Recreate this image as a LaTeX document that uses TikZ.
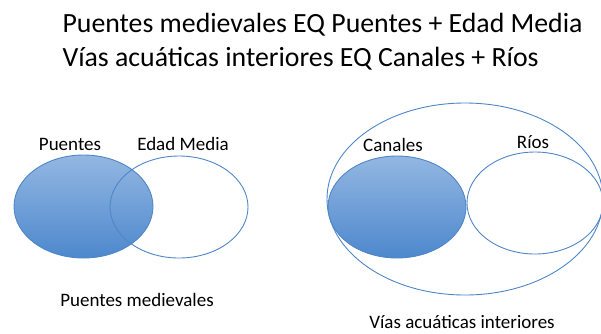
\documentclass[tikz,border=0pt]{standalone}
\usepackage{fontspec}
\setmainfont{Carlito}
\usetikzlibrary{shapes.geometric}
\definecolor{setline}{HTML}{4F86C6}
\definecolor{settop}{HTML}{93B7E2}
\definecolor{setbot}{HTML}{4D88CD}
\tikzset{
    every node/.style={font=\fontsize{19}{22}\selectfont},
    title/.style={anchor=west, font=\fontsize{27.8}{34}\selectfont},
    set/.style={ellipse, draw=setline, line width=0.9pt, inner sep=0pt},
    fullset/.style={set, top color=settop, bottom color=setbot}
}

\begin{document}
\begin{tikzpicture}[x=1pt, y=-1pt]
  \useasboundingbox (0,0) rectangle (601,333);
  \clip (0,0) rectangle (601,333);

  \node (t1) [title] at (59,25) {Puentes medievales EQ Puentes + Edad Media};
  \node (t2) [title] at (59,59) {Vías acuáticas interiores EQ Canales + Ríos};

  % left diagram
  \node (puentes) [fullset, minimum width=139pt, minimum height=103pt] at (83.5,206.5) {};
  \node (edad) [set, minimum width=138pt, minimum height=102pt] at (179,207) {};
  \node (lpuentes) at (70,144) {Puentes};
  \node (ledad) at (183,144) {Edad Media};
  \node (lmed) at (137,300) {Puentes medievales};

  % right diagram
  \node (vias) [set, minimum width=276pt, minimum height=192pt] at (465,199) {};
  \node (canales) [fullset, minimum width=138pt, minimum height=102pt] at (397,207) {};
  \node (rios) [set, minimum width=136pt, minimum height=102pt] at (535,203) {};
  \node (lcanales) at (393,145) {Canales};
  \node (lrios) at (533,142) {Ríos};
  \node (lvias) at (462,322) {Vías acuáticas interiores};

\end{tikzpicture}
\end{document}
